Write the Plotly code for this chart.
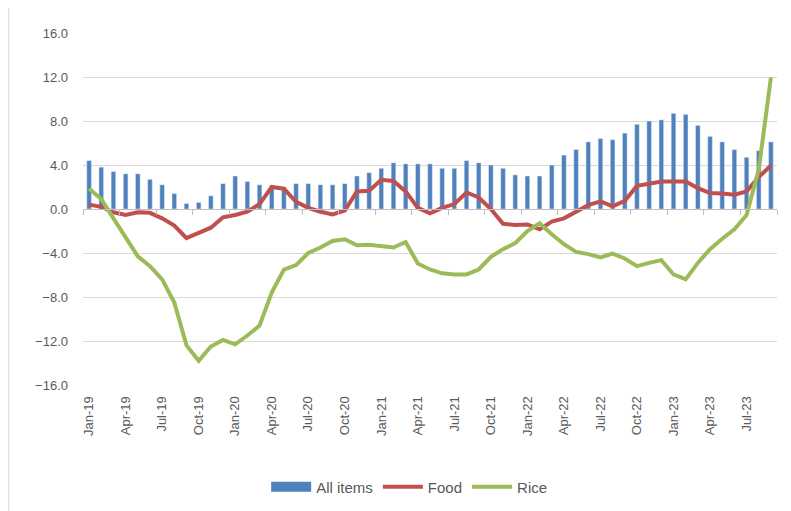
import plotly.graph_objects as go

months = [
    "Jan-19", "Feb-19", "Mar-19", "Apr-19", "May-19", "Jun-19", "Jul-19", "Aug-19", "Sep-19", "Oct-19", "Nov-19", "Dec-19",
    "Jan-20", "Feb-20", "Mar-20", "Apr-20", "May-20", "Jun-20", "Jul-20", "Aug-20", "Sep-20", "Oct-20", "Nov-20", "Dec-20",
    "Jan-21", "Feb-21", "Mar-21", "Apr-21", "May-21", "Jun-21", "Jul-21", "Aug-21", "Sep-21", "Oct-21", "Nov-21", "Dec-21",
    "Jan-22", "Feb-22", "Mar-22", "Apr-22", "May-22", "Jun-22", "Jul-22", "Aug-22", "Sep-22", "Oct-22", "Nov-22", "Dec-22",
    "Jan-23", "Feb-23", "Mar-23", "Apr-23", "May-23", "Jun-23", "Jul-23", "Aug-23", "Sep-23",
]

all_items = [
    4.4, 3.8, 3.4, 3.2, 3.2, 2.7, 2.2, 1.4, 0.5, 0.6, 1.2, 2.3,
    3.0, 2.5, 2.2, 2.1, 2.0, 2.3, 2.3, 2.2, 2.2, 2.3, 3.0, 3.3,
    3.7, 4.2, 4.1, 4.1, 4.1, 3.7, 3.7, 4.4, 4.2, 4.0, 3.7, 3.1,
    3.0, 3.0, 4.0, 4.9, 5.4, 6.1, 6.4, 6.3, 6.9, 7.7, 8.0, 8.1,
    8.7, 8.6, 7.6, 6.6, 6.1, 5.4, 4.7, 5.3, 6.1,
]

food = [
    0.4, 0.2, -0.3, -0.55, -0.3, -0.35, -0.85, -1.5, -2.65, -2.2, -1.7, -0.75,
    -0.55, -0.25, 0.45, 2.0, 1.85, 0.65, 0.1, -0.25, -0.5, -0.15, 1.6, 1.65,
    2.65, 2.55, 1.6, 0.1, -0.4, 0.1, 0.45, 1.5, 1.05, 0.0, -1.35, -1.45,
    -1.4, -1.85, -1.15, -0.85, -0.2, 0.35, 0.7, 0.25, 0.75, 2.1, 2.3, 2.5,
    2.5, 2.5, 1.9, 1.45, 1.4, 1.3, 1.6, 2.9, 3.95,
]

rice = [
    1.85, 0.9, -0.85, -2.6, -4.3, -5.2, -6.4, -8.5, -12.4, -13.8, -12.5, -11.9,
    -12.3, -11.5, -10.6, -7.6, -5.5, -5.1, -4.0, -3.5, -2.9, -2.75, -3.3, -3.25,
    -3.4, -3.5, -3.0, -4.95, -5.5, -5.85, -5.95, -5.95, -5.5, -4.35, -3.65, -3.1,
    -2.0, -1.3, -2.3, -3.2, -3.9, -4.1, -4.4, -4.05, -4.5, -5.2, -4.9, -4.65,
    -5.95, -6.4, -4.9, -3.65, -2.7, -1.85, -0.55, 3.6, 11.95,
]

y_ticks = [16, 12, 8, 4, 0, -4, -8, -12, -16]

label_months = months[::3]
n = len(months)
boundaries = [i - 0.5 for i in range(0, n + 1, 3)]

BLUE = "#4F81BD"
RED = "#C0504D"
GREEN = "#9BBB59"
TXT = "#595959"
FONT = "Liberation Sans, Arial, sans-serif"

fig = go.Figure()
fig.add_trace(go.Bar(x=months, y=all_items, name="All items", marker_color=BLUE,
                     showlegend=False))
# legend entry for the bars, drawn as a wide block like the original legend key
fig.add_trace(go.Scatter(x=[None], y=[None], name="All items", mode="lines",
                         line=dict(color=BLUE, width=11), hoverinfo="skip"))
fig.add_trace(go.Scatter(x=months, y=food, name="Food", mode="lines",
                         line=dict(color=RED, width=4)))
fig.add_trace(go.Scatter(x=months, y=rice, name="Rice", mode="lines",
                         line=dict(color=GREEN, width=4)))
# helper trace so the zero-line axis (x2) is rendered
fig.add_trace(go.Scatter(x=[None], y=[None], xaxis="x2", yaxis="y",
                         showlegend=False, hoverinfo="skip"))

fig.update_layout(
    width=783, height=503,
    margin=dict(l=75, r=14, t=25, b=126, autoexpand=False),
    paper_bgcolor="white", plot_bgcolor="white",
    font=dict(family=FONT, size=13, color=TXT),
    bargap=0.62,
    showlegend=True,
    legend=dict(orientation="h", x=0.47, xanchor="center", y=-0.29, yanchor="middle",
                font=dict(size=15, color=TXT), itemwidth=40, traceorder="normal",
                tracegroupgap=0),
    xaxis=dict(
        type="category", categoryorder="array", categoryarray=months,
        range=[-0.5, n - 0.5],
        tickmode="array", tickvals=label_months, ticktext=label_months,
        tickangle=-90, showgrid=False, showline=False, zeroline=False,
        ticks="outside", ticklen=5, tickcolor="rgba(0,0,0,0)",
        tickfont=dict(size=13, color=TXT), automargin=False,
    ),
    xaxis2=dict(
        overlaying="x", anchor="free", position=0.5, side="bottom",
        range=[-0.5, n - 0.5], tickmode="array", tickvals=boundaries,
        showticklabels=False, ticks="outside", ticklen=5, tickcolor="#bfbfbf",
        showline=True, linecolor="#bfbfbf", linewidth=1,
        showgrid=False, zeroline=False, automargin=False,
    ),
    yaxis=dict(
        range=[-16, 16], tickmode="array", tickvals=y_ticks,
        tickformat=".1f", showgrid=True, gridcolor="#d9d9d9", gridwidth=1,
        zeroline=False, showline=False, ticks="",
        ticklabelstandoff=14, tickfont=dict(size=13, color=TXT), automargin=False,
    ),
    shapes=[dict(type="line", xref="paper", yref="paper",
                 x0=-0.107, x1=-0.107, y0=-0.36, y1=1.1,
                 line=dict(color="#d9d9d9", width=1))],
)

fig.write_html("out.html")
